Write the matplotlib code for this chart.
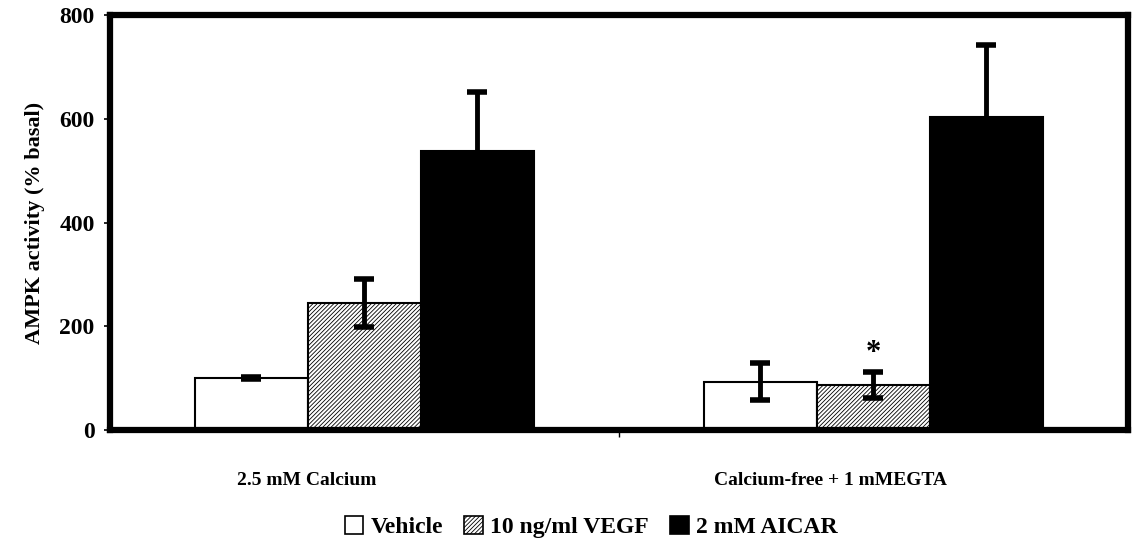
import numpy as np
import matplotlib
matplotlib.use('Agg')
import matplotlib.pyplot as plt
from matplotlib.patches import Patch

plt.rcParams['font.family'] = ['Liberation Serif', 'DejaVu Serif']
plt.rcParams['font.weight'] = 'bold'
plt.rcParams['axes.labelweight'] = 'bold'
plt.rcParams['hatch.linewidth'] = 0.6

conditions = ['2.5 mM Calcium', 'Calcium-free + 1 mMEGTA']
treatments = ['Vehicle', '10 ng/ml VEGF', '2 mM AICAR']
means = {
    'Vehicle': [100, 93],
    '10 ng/ml VEGF': [245, 87],
    '2 mM AICAR': [538, 603],
}
errors = {
    'Vehicle': [2, 36],
    '10 ng/ml VEGF': [46, 25],
    '2 mM AICAR': [113, 139],
}
styles = {
    'Vehicle': dict(color='white', hatch=None),
    '10 ng/ml VEGF': dict(color='white', hatch='////////'),
    '2 mM AICAR': dict(color='black', hatch=None),
}
# significance marker over VEGF in calcium-free medium
star_group, star_y = 1, 148

fig = plt.figure(figsize=(11.37, 5.48), dpi=100)
ax = fig.add_axes([0.0967, 0.2153, 0.8953, 0.7573])

x = np.arange(len(conditions))
width = 0.222
offsets = [-width, 0, width]

for name, off in zip(treatments, offsets):
    st = styles[name]
    ax.bar(x + off, means[name], width, color=st['color'], hatch=st['hatch'],
           edgecolor='black', linewidth=1.5, zorder=2)
    ax.errorbar(x + off, means[name], yerr=errors[name], fmt='none',
                ecolor='black', elinewidth=3.5, capsize=7, capthick=4, zorder=3)

ax.text(x[star_group], star_y, '*', ha='center', va='center', fontsize=22)

ax.set_xlim(-0.5, 1.5)
ax.set_ylim(0, 800)
ax.set_yticks([0, 200, 400, 600, 800])
ax.tick_params(axis='y', labelsize=17, length=4, width=1.2, pad=7)

# category labels sit a little left of the group centres
ax.set_xticks([-0.113, 0.916])
ax.set_xticklabels(conditions, fontsize=14)
ax.tick_params(axis='x', length=0, pad=30)
ax.set_xticks([0.5], minor=True)
ax.tick_params(axis='x', which='minor', length=5, width=1)

ax.set_ylabel('AMPK activity (% basal)', fontsize=16, labelpad=10)
for s in ax.spines.values():
    s.set_linewidth(4.5)

handles = [Patch(facecolor=styles[n]['color'], hatch=styles[n]['hatch'],
                 edgecolor='black', linewidth=1.2) for n in treatments]
fig.legend(handles, treatments, loc='center', bbox_to_anchor=(0.52, 0.038),
           ncol=3, frameon=False, fontsize=17, handlelength=0.8, handleheight=0.8,
           handletextpad=0.3, columnspacing=0.9)

fig.savefig('out.png', dpi=100)
